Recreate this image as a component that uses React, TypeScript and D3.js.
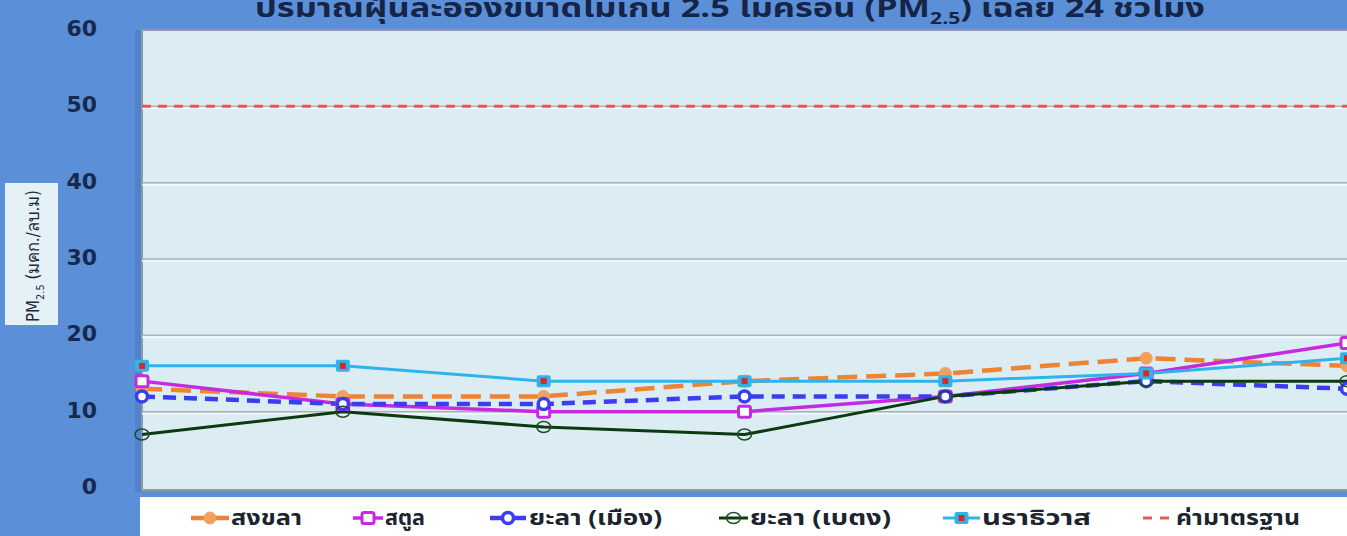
import React from "react";
import * as d3 from "d3";

const W = 1347;
const H = 536;

const stations = ["สงขลา", "สตูล", "ยะลา (เมือง)", "ยะลา (เบตง)", "นราธิวาส"];
const days = ["1", "2", "3", "4", "5", "6", "7"];
const songkhla = [13, 12, 12, 14, 15, 17, 16];
const satun = [14, 11, 10, 10, 12, 15, 19];
const yalaMueang = [12, 11, 11, 12, 12, 14, 13];
const yalaBetong = [7, 10, 8, 7, 12, 14, 14];
const narathiwat = [16, 16, 14, 14, 14, 15, 17];
const standardValue = 50;
const standardLabel = "ค่ามาตรฐาน";
const yTicks = [0, 10, 20, 30, 40, 50, 60];

const FONT = "'Noto Sans Thai', Tahoma, 'DejaVu Sans', sans-serif";

type SeriesDef = {
  name: string;
  values: number[];
  color: string;
  width: number;
  dash?: string;
  marker: "dot" | "square" | "ring" | "oring" | "sqred";
};

const series: SeriesDef[] = [
  { name: stations[0], values: songkhla, color: "#ee8433", width: 4.5, dash: "20,9", marker: "dot" },
  { name: stations[1], values: satun, color: "#c62ae0", width: 3.5, marker: "square" },
  { name: stations[2], values: yalaMueang, color: "#3a3df0", width: 4.5, dash: "13,8", marker: "ring" },
  { name: stations[3], values: yalaBetong, color: "#0c3a10", width: 3, marker: "oring" },
  { name: stations[4], values: narathiwat, color: "#2eb4ea", width: 3, marker: "sqred" },
];

function Marker({ s, x, y }: { s: SeriesDef; x: number; y: number }) {
  switch (s.marker) {
    case "dot":
      return <circle cx={x} cy={y} r={6} fill="#f2a05e" stroke="#f2a05e" />;
    case "square":
      return <rect x={x - 6} y={y - 5.5} width={12} height={11} rx={2} fill="#fff" stroke={s.color} strokeWidth={3} />;
    case "ring":
      return <circle cx={x} cy={y} r={5.5} fill="#fff" stroke={s.color} strokeWidth={3.5} />;
    case "oring":
      return <ellipse cx={x} cy={y} rx={7} ry={5.5} fill="none" stroke="#1e4a25" strokeWidth={1.5} />;
    case "sqred":
      return (
        <g>
          <rect x={x - 7} y={y - 6} width={14} height={12} rx={2} fill={s.color} />
          <rect x={x - 3} y={y - 3} width={6} height={6} fill="#d42a2a" />
        </g>
      );
  }
  return null;
}

export default function App() {
  const plotLeft = 142;
  const plotRight = 1347;
  const y = d3.scaleLinear().domain([0, 60]).range([488, 30]);
  const x = d3.scalePoint<string>().domain(days).range([plotLeft, plotRight]);
  const line = d3
    .line<number>()
    .x((_, i) => x(days[i]) as number)
    .y((d) => y(d));

  // legend layout: line start, line end, text x, text width
  const legendItems = [
    { x1: 191, x2: 229, tx: 231, tw: 71 },
    { x1: 353, x2: 383, tx: 385, tw: 40 },
    { x1: 490, x2: 526, tx: 529, tw: 133 },
    { x1: 719, x2: 748, tx: 750, tw: 141 },
    { x1: 943, x2: 980, tx: 982, tw: 109 },
  ];

  return (
    <svg width={W} height={H} style={{ position: "absolute", left: 0, top: 0 }} fontFamily={FONT}>
      <rect x={0} y={0} width={W} height={H} fill="#5b8fd8" />
      {/* shadow of plot */}
      <rect x={135} y={30} width={7} height={462} fill="#5083cc" />
      {/* plot area */}
      <rect x={plotLeft} y={y(60)} width={plotRight - plotLeft + 10} height={y(0) - y(60) + 2} fill="#dcecf3" stroke="#8f9aa4" strokeWidth={2} />
      {yTicks
        .filter((t) => t > 0 && t < 60)
        .map((t) => (
          <g key={t}>
            <line x1={plotLeft} x2={plotRight} y1={y(t)} y2={y(t)} stroke="#a9b1b6" strokeWidth={1.5} />
            <line x1={plotLeft} x2={plotRight} y1={y(t) + 2} y2={y(t) + 2} stroke="#f3f9fb" strokeWidth={1.5} />
          </g>
        ))}
      {yTicks.map((t) => (
        <text key={t} x={97} y={y(t) + 6} textAnchor="end" fontSize={22} fontWeight="bold" fill="#17294d" fontFamily="'DejaVu Sans', sans-serif">
          {t}
        </text>
      ))}
      {/* standard line */}
      <line x1={plotLeft} x2={plotRight} y1={y(standardValue)} y2={y(standardValue)} stroke="#e4585a" strokeWidth={3} strokeDasharray="9,7" />
      {series.map((s) => (
        <path key={s.name} d={line(s.values) || ""} fill="none" stroke={s.color} strokeWidth={s.width} strokeDasharray={s.dash} />
      ))}
      {series.map((s) =>
        s.values.map((v, i) => <Marker key={s.name + i} s={s} x={x(days[i]) as number} y={y(v)} />)
      )}
      {/* y axis title */}
      <rect x={5} y={183} width={53} height={142} fill="#e4f1f6" />
      <text transform="translate(39,322) rotate(-90)" fontSize={17} fill="#1f2b3a" textLength={132} lengthAdjust="spacingAndGlyphs" fontFamily="'Liberation Sans Narrow', 'DejaVu Sans Condensed', sans-serif">
        PM<tspan fontSize={11} dy={5}>2.5</tspan>
        <tspan dy={-5}> (มคก./ลบ.ม)</tspan>
      </text>
      {/* title */}
      <text x={255} y={17} fontSize={26} fontWeight="bold" fill="#162546" textLength={950} lengthAdjust="spacingAndGlyphs">
        ปริมาณฝุ่นละอองขนาดไม่เกิน 2.5 ไมครอน (PM<tspan fontSize={16} dy={7}>2.5</tspan>
        <tspan dy={-7}>) เฉลี่ย 24 ชั่วโมง</tspan>
      </text>
      {/* legend */}
      <rect x={140} y={497} width={W - 140} height={40} fill="#ffffff" />
      {series.map((s, i) => {
        const it = legendItems[i];
        return (
          <g key={"lg" + s.name}>
            <line x1={it.x1} x2={it.x2} y1={518} y2={518} stroke={s.color} strokeWidth={s.width} />
            <Marker s={s} x={(it.x1 + it.x2) / 2} y={518} />
            <text x={it.tx} y={525} fontSize={21} fontWeight="bold" fill="#1c2430" textLength={it.tw} lengthAdjust="spacingAndGlyphs">
              {s.name}
            </text>
          </g>
        );
      })}
      <line x1={1143} x2={1173} y1={518} y2={518} stroke="#e4585a" strokeWidth={3} strokeDasharray="9,8" />
      <text x={1176} y={525} fontSize={21} fontWeight="bold" fill="#1c2430" textLength={124} lengthAdjust="spacingAndGlyphs">
        {standardLabel}
      </text>
    </svg>
  );
}
